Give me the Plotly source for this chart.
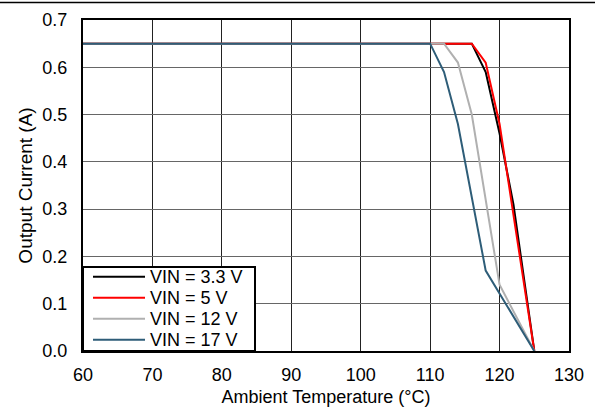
import plotly.graph_objects as go

# Data
temp_33 = [60, 116, 118, 120, 122, 125]
cur_33 = [0.65, 0.65, 0.59, 0.46, 0.31, 0.0]

temp_5 = [60, 116, 118, 120, 125]
cur_5 = [0.65, 0.65, 0.61, 0.48, 0.0]

temp_12 = [60, 112, 114, 116, 120, 125]
cur_12 = [0.65, 0.65, 0.61, 0.50, 0.14, 0.0]

temp_17 = [60, 110, 112, 114, 118, 125]
cur_17 = [0.65, 0.65, 0.59, 0.48, 0.17, 0.0]

series_names = ["VIN = 3.3 V", "VIN = 5 V", "VIN = 12 V", "VIN = 17 V"]
series_colors = ["#000000", "#ff0000", "#b0b0b0", "#2e5d78"]

FONT = "Liberation Sans, Arial, sans-serif"

fig = go.Figure()
for xs, ys, name, col in zip(
    [temp_33, temp_5, temp_12, temp_17],
    [cur_33, cur_5, cur_12, cur_17],
    series_names, series_colors,
):
    fig.add_trace(go.Scatter(x=xs, y=ys, mode="lines", name=name,
                             line=dict(color=col, width=2), showlegend=False))

W, H = 595, 412
ml, mr, mt, mb = 83, 26, 20, 61
pw = W - ml - mr
ph = H - mt - mb

fig.update_layout(
    width=W, height=H,
    margin=dict(l=ml, r=mr, t=mt, b=mb, autoexpand=False),
    paper_bgcolor="white", plot_bgcolor="white",
    font=dict(family=FONT, size=18, color="#000000"),
    showlegend=False,
    xaxis=dict(range=[60, 130], dtick=10, tick0=60, automargin=False,
               showgrid=True, gridcolor="#222222", gridwidth=1,
               showline=True, linecolor="#000000", linewidth=2, mirror=True,
               ticks="", zeroline=False, ticklabelstandoff=6,
               tickfont=dict(family=FONT, size=18),
               title=dict(text="Ambient Temperature (°C)", standoff=7,
                          font=dict(family=FONT, size=18))),
    yaxis=dict(range=[0, 0.7], dtick=0.1, tick0=0, tickformat=".1f",
               automargin=False,
               showgrid=True, gridcolor="#666666", gridwidth=1,
               showline=True, linecolor="#000000", linewidth=2, mirror=True,
               ticks="", zeroline=False, ticklabelstandoff=10,
               tickfont=dict(family=FONT, size=18),
               title=dict(text="Output Current (A)", standoff=5,
                          font=dict(family=FONT, size=19))),
)

# Legend box (drawn with paper-referenced shapes and annotations)
def px_x(p):
    return (p - ml) / pw

def px_y(p):
    return (H - mb - p) / ph

fig.add_shape(type="rect", xref="paper", yref="paper",
              x0=px_x(83), x1=px_x(255), y0=px_y(351), y1=px_y(267),
              fillcolor="white", line=dict(color="#000000", width=2),
              layer="above")
legend_rows = [276.7, 297.7, 318.7, 339.7]
for name, col, ry in zip(series_names, series_colors, legend_rows):
    fig.add_shape(type="line", xref="paper", yref="paper",
                  x0=px_x(93), x1=px_x(145), y0=px_y(ry), y1=px_y(ry),
                  line=dict(color=col, width=2), layer="above")
    fig.add_annotation(xref="paper", yref="paper", x=px_x(148), y=px_y(ry),
                       text=name, showarrow=False, xanchor="left",
                       yanchor="middle",
                       font=dict(family=FONT, size=18, color="#000000"))

# Header rule across the top of the page
fig.add_shape(type="line", xref="paper", yref="paper",
              x0=px_x(0), x1=px_x(W), y0=px_y(2.5), y1=px_y(2.5),
              line=dict(color="#000000", width=1.5))

fig.write_html("out.html", config={"displayModeBar": False},
               post_script="document.body.style.margin='0px';")
